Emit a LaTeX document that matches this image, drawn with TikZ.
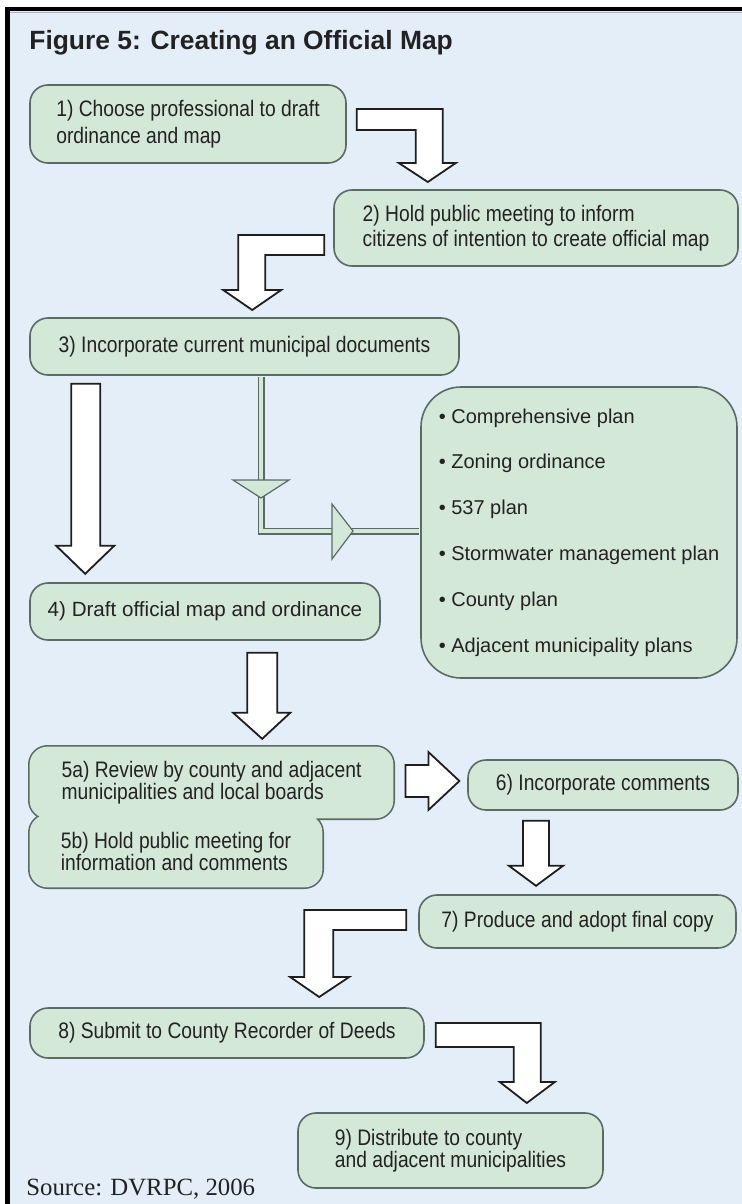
\documentclass[tikz,border=0pt]{standalone}
\usepackage{fontspec}
\setmainfont{Liberation Sans}
\newfontfamily\narrowfont[FakeStretch=0.86]{Liberation Sans}
\newfontfamily\srcfont{Liberation Serif}
\usetikzlibrary{calc}
\definecolor{bgblue}{HTML}{E4EEF8}
\definecolor{boxfill}{HTML}{D4E8D8}
\definecolor{boxline}{HTML}{5A6A64}
\definecolor{arrline}{HTML}{1E1E1E}
\definecolor{txt}{HTML}{222222}
\pgfdeclarelayer{bglayer}
\pgfdeclarelayer{shplayer}
\pgfsetlayers{bglayer,shplayer,main}
\tikzset{
  flowbox/.style={rectangle, rounded corners=9pt, draw=boxline, line width=0.8pt,
    fill=boxfill, inner sep=0pt, align=left, text=txt,
    font=\narrowfont\fontsize{11.2}{12}\selectfont},
  textonly/.style={rectangle, inner sep=0pt, align=left, text=txt,
    font=\narrowfont\fontsize{11.2}{11}\selectfont},
  blockarrow/.style={draw=arrline, fill=white, line width=0.9pt, line join=miter},
  tri/.style={draw=boxline, fill=boxfill, line width=0.6pt, line join=miter}
}
\begin{document}
\begin{tikzpicture}[x=0.5pt,y=-0.5pt]
\useasboundingbox (0,0) rectangle (742,1204);
\begin{pgfonlayer}{bglayer}
\fill[white] (0,0) rectangle (742,1204);
\fill[bgblue] (10,11) rectangle (742,1204);
\draw[gray!60, line width=0.6pt] (10,12.5) -- (742,12.5);
\fill[black] (5,7) rectangle (742,11);
\fill[black] (5,7) rectangle (10,1204);
\end{pgfonlayer}

\node[anchor=base west, inner sep=0pt, text=txt, font=\bfseries\fontsize{13.2}{15}\selectfont] (title) at (29,50) {Figure 5: Creating an Official Map};

\node[flowbox, minimum width=158pt, minimum height=39pt, font=\narrowfont\fontsize{11.2}{13.5}\selectfont] (b1) at (188,124) {1) Choose professional to draft\\ordinance and map};
\node[flowbox, minimum width=202pt, minimum height=38pt, font=\narrowfont\fontsize{11.2}{12.5}\selectfont] (b2) at (536,228) {2) Hold public meeting to inform\\citizens of intention to create official map};
\node[flowbox, minimum width=214.5pt, minimum height=28.5pt] (b3) at (244.5,346.5) {3) Incorporate current municipal documents};
\node[flowbox, rounded corners=20pt, minimum width=158pt, minimum height=145.5pt, font=\fontsize{10}{22.9}\selectfont] (docs) at (579,532.5) {• Comprehensive plan\\• Zoning ordinance\\• 537 plan\\• Stormwater management plan\\• County plan\\• Adjacent municipality plans};
\node[flowbox, minimum width=175pt, minimum height=28.5pt, font=\fontsize{10.3}{12}\selectfont] (b4) at (205,611.5) {4) Draft official map and ordinance};
\node[textonly, minimum width=181.5pt, minimum height=35.5pt] (b5a) at (211.5,782.5) {5a) Review by county and adjacent\\municipalities and local boards};
\node[textonly, minimum width=146pt, minimum height=36pt] (b5b) at (176,851) {5b) Hold public meeting for\\information and comments};
\node[flowbox, minimum width=135pt, minimum height=25pt] (b6) at (603,785) {6) Incorporate comments};
\node[flowbox, minimum width=158.5pt, minimum height=26.5pt] (b7) at (577.5,921.5) {7) Produce and adopt final copy};
\node[flowbox, minimum width=197pt, minimum height=25pt] (b8) at (227,1033) {8) Submit to County Recorder of Deeds};
\node[flowbox, minimum width=152.5pt, minimum height=37.5pt, font=\narrowfont\fontsize{11.2}{11}\selectfont] (b9) at (450.5,1150.5) {9) Distribute to county\\and adjacent municipalities};

\node[anchor=base west, inner sep=0pt, text=txt, font=\srcfont\fontsize{12.4}{14}\selectfont] (src) at (26,1195) {Source: DVRPC, 2006};

% merged 5a / 5b shape
\begin{pgfonlayer}{shplayer}
\path[draw=boxline, line width=1.6pt, rounded corners=9pt]
  (b5a.south west) rectangle (b5a.north east)
  (b5b.south west) rectangle (b5b.north east);
\path[fill=boxfill, rounded corners=9pt]
  (b5a.south west) rectangle (b5a.north east)
  (b5b.south west) rectangle (b5b.north east);
\end{pgfonlayer}

% block arrows
\draw[blockarrow] ($(b1.east)+(10,-15)$) -- ++(86,0) -- ++(0,54) -- ++(13,0) -- ++(-28,19) -- ++(-29,-19) -- ++(17,0) -- ++(0,-33) -- ++(-59,0) -- cycle;
\draw[blockarrow] ($(b2.west)+(-9,7)$) -- ++(-86,0) -- ++(0,55) -- ++(-15,0) -- ++(29,20) -- ++(29,-20) -- ++(-16,0) -- ++(0,-35) -- ++(59,0) -- cycle;
\draw[blockarrow] ($(b3.south west)+(42,8)$) -- ++(29,0) -- ++(0,162) -- ++(14,0) -- ++(-29,28) -- ++(-29,-28) -- ++(15,0) -- cycle;
\draw[blockarrow] ($(b4.south west)+(218,12)$) -- ++(30,0) -- ++(0,60) -- ++(13,0) -- ++(-28,26) -- ++(-29,-26) -- ++(14,0) -- cycle;
\draw[blockarrow] ($(b5a.east)+(12,-17.5)$) -- ++(23,0) -- ++(0,-13) -- ++(31,29) -- ++(-31,29) -- ++(0,-13) -- ++(-23,0) -- cycle;
\draw[blockarrow] ($(b6.south)+(-80,10)$) -- ++(26,0) -- ++(0,45) -- ++(14,0) -- ++(-27,20) -- ++(-27,-20) -- ++(14,0) -- cycle;
\draw[blockarrow] ($(b7.west)+(-12,-11.5)$) -- ++(-102,0) -- ++(0,67) -- ++(-14,0) -- ++(29,20) -- ++(30,-20) -- ++(-16,0) -- ++(0,-47) -- ++(73,0) -- cycle;
\draw[blockarrow] ($(b8.east)+(11,-10)$) -- ++(105,0) -- ++(0,59) -- ++(14,0) -- ++(-28,21) -- ++(-27,-21) -- ++(14,0) -- ++(0,-35) -- ++(-78,0) -- cycle;

% connector from 3 to document list
\coordinate (cx) at (261,531);
\draw[line width=3.5pt, boxline, line join=miter] ($(b3.south -| cx)+(0,1)$) -- (cx) -- ($(cx -| docs.west)+(-1,0)$);
\draw[line width=2.1pt, boxfill, line join=miter] ($(b3.south -| cx)+(0,1)$) -- (cx) -- ($(cx -| docs.west)+(-1,0)$);
\draw[tri] ($(cx)+(-28,-51)$) -- ($(cx)+(28,-51)$) -- ($(cx)+(0,-33)$) -- cycle;
\draw[tri] ($(cx)+(71,-27)$) -- ($(cx)+(92,0)$) -- ($(cx)+(71,28)$) -- cycle;
\end{tikzpicture}
\end{document}
